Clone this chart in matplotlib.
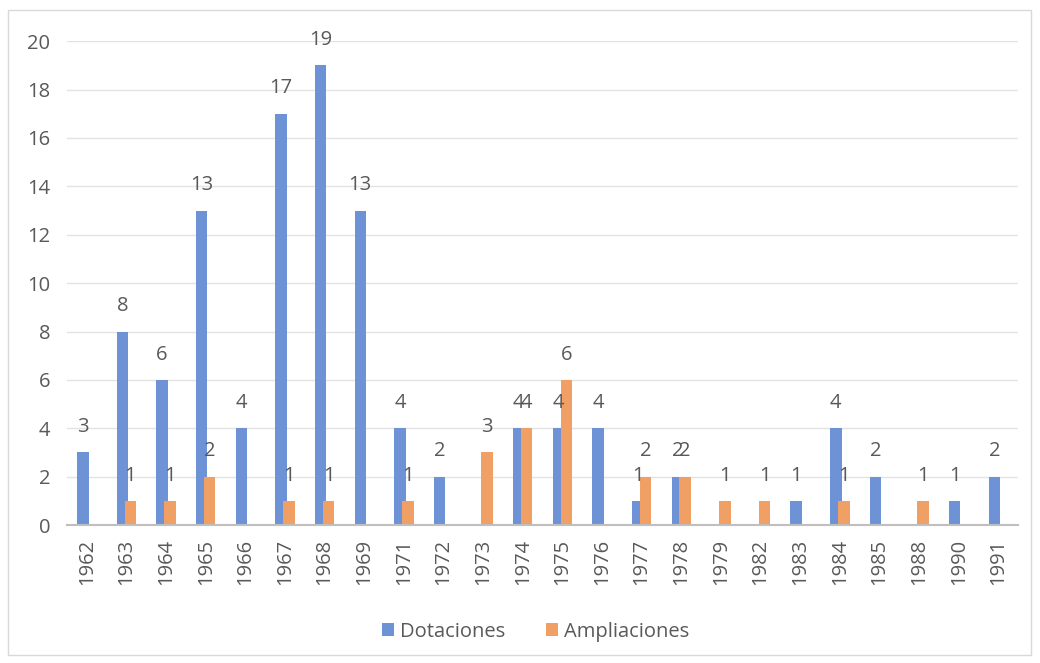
import numpy as np
import matplotlib.pyplot as plt
from matplotlib.patches import Rectangle

years = ['1962', '1963', '1964', '1965', '1966', '1967', '1968', '1969', '1971',
         '1972', '1973', '1974', '1975', '1976', '1977', '1978', '1979', '1982',
         '1983', '1984', '1985', '1988', '1990', '1991']
dotaciones = [3, 8, 6, 13, 4, 17, 19, 13, 4, 2, 0, 4, 4, 4, 1, 2, 0, 0, 1, 4, 2, 0, 1, 2]
ampliaciones = [0, 1, 1, 2, 0, 1, 1, 0, 1, 0, 3, 4, 6, 0, 2, 2, 1, 1, 0, 1, 0, 1, 0, 0]

blue = '#6d93d6'
orange = '#f0a065'
text_col = '#595959'

plt.rcParams['font.family'] = ['Open Sans', 'DejaVu Sans']

fig = plt.figure(figsize=(10.4, 6.63), dpi=100)
ax = fig.add_axes([0.0644, 0.208, 0.9146, 0.730])

x = np.arange(len(years))
w = 0.29
b1 = ax.bar(x - 0.1, dotaciones, w, color=blue, label='Dotaciones', zorder=2)
b2 = ax.bar(x + 0.1, ampliaciones, w, color=orange, label='Ampliaciones', zorder=3)

# value labels, skipping empty bars
for bars, vals in ((b1, dotaciones), (b2, ampliaciones)):
    for rect, v in zip(bars, vals):
        if v == 0:
            continue
        ax.annotate(str(v), (rect.get_x() + rect.get_width() / 2, v),
                    xytext=(0, 11), textcoords='offset points',
                    ha='center', va='bottom', fontsize=14.5, color=text_col, zorder=4)

ax.set_xlim(-0.5, len(years) - 0.5)
ax.set_ylim(0, 20)
ax.set_yticks(range(0, 21, 2))
ax.set_xticks(x)
ax.set_xticklabels(years, rotation=90)
ax.tick_params(axis='both', length=0, colors=text_col, labelsize=14.5)
ax.tick_params(axis='y', pad=12)
ax.tick_params(axis='x', pad=10)
ax.grid(axis='y', color='#e3e3e3', linewidth=1, zorder=0)
for s in ('top', 'right', 'left'):
    ax.spines[s].set_visible(False)
ax.spines['bottom'].set_color('#bfbfbf')
ax.spines['bottom'].set_linewidth(1.5)
ax.spines['bottom'].set_zorder(5)

fig.legend(handles=[b1, b2], loc='center', bbox_to_anchor=(0.515, 0.047),
           ncol=2, frameon=False, fontsize=14.5, labelcolor=text_col,
           handlelength=0.6, handleheight=0.6, handletextpad=0.3, columnspacing=2.0)

fig.patches.append(Rectangle((0.008, 0.012), 0.983, 0.973, transform=fig.transFigure,
                             fill=False, edgecolor='#d9d9d9', linewidth=1))

fig.savefig('out.png', dpi=100)
